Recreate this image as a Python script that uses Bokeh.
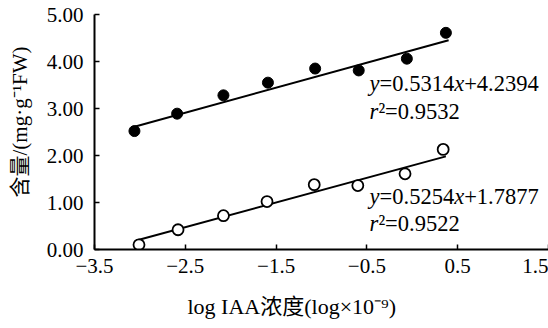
from bokeh.plotting import figure
from bokeh.models import Range1d, FixedTicker, Label, Title
from bokeh.embed import file_html
from bokeh.resources import INLINE

# ---- data ----
x_filled = [-3.06, -2.59, -2.08, -1.59, -1.07, -0.59, -0.06, 0.37]
y_filled = [2.52, 2.89, 3.28, 3.55, 3.85, 3.81, 4.06, 4.61]
x_open = [-3.01, -2.58, -2.08, -1.60, -1.08, -0.60, -0.08, 0.34]
y_open = [0.10, 0.42, 0.72, 1.02, 1.38, 1.36, 1.61, 2.13]

slope_filled, icpt_filled = 0.5314, 4.2394
slope_open, icpt_open = 0.5254, 1.7877

x_ticks = [-3.5, -2.5, -1.5, -0.5, 0.5, 1.5]
x_tick_labels = ["\u22123.5", "\u22122.5", "\u22121.5", "\u22120.5", "0.5", "1.5"]
y_ticks = [0, 1, 2, 3, 4, 5]
y_tick_labels = ["0.00", "1.00", "2.00", "3.00", "4.00", "5.00"]

x_title = "log IAA浓度(log×10\u207b\u2079)"
y_title = "含量/(mg\u00b7g\u207b\u00b9FW)"

FONT = "Liberation Serif, Noto Sans CJK SC"

p = figure(width=548, height=328, output_backend="svg", toolbar_location=None,
           x_range=Range1d(-3.5, 1.5), y_range=Range1d(0, 5),
           min_border_left=94, min_border_right=0, min_border_top=14,
           min_border_bottom=79)
p.outline_line_color = None
p.xgrid.visible = False
p.ygrid.visible = False
p.background_fill_color = "white"
p.border_fill_color = "white"

for ax in (p.xaxis[0], p.yaxis[0]):
    ax.axis_line_width = 2
    ax.axis_line_color = "black"
    ax.major_tick_in = 5
    ax.major_tick_out = 0
    ax.major_tick_line_width = 1.5
    ax.major_tick_line_color = "black"
    ax.minor_tick_line_color = None
    ax.major_label_text_font = FONT
    ax.major_label_text_font_size = "21px"
    ax.major_label_text_color = "black"

p.xaxis.ticker = FixedTicker(ticks=x_ticks)
p.xaxis.major_label_overrides = {t: l for t, l in zip(x_ticks, x_tick_labels)}
p.xaxis.major_label_standoff = 9
# blank spacer labels to push the titles a little outward
p.xaxis.axis_label = " "
p.xaxis.axis_label_text_font_size = "5px"
p.xaxis.axis_label_standoff = 2
p.yaxis.ticker = FixedTicker(ticks=y_ticks)
p.yaxis.major_label_overrides = {t: l for t, l in zip(y_ticks, y_tick_labels)}
p.yaxis.major_label_standoff = 11
p.yaxis.axis_label = " "
p.yaxis.axis_label_text_font_size = "3px"
p.yaxis.axis_label_standoff = 1

# axis titles
p.add_layout(Title(text=x_title, align="left", offset=93, text_font=FONT,
                   text_font_size="22px", text_font_style="normal",
                   text_color="black"), "below")
p.add_layout(Title(text=y_title, align="left", offset=52, text_font=FONT,
                   text_font_size="21px", text_font_style="normal",
                   text_color="black"), "left")

# regression lines
for xs, a, b in ((x_filled, slope_filled, icpt_filled), (x_open, slope_open, icpt_open)):
    x0, x1 = min(xs) - 0.03, max(xs) + 0.03
    p.line([x0, x1], [a * x0 + b, a * x1 + b], line_color="black", line_width=2)

p.scatter(x_filled, y_filled, size=11, fill_color="black", line_color="black")
p.scatter(x_open, y_open, size=11, fill_color="white", line_color="black", line_width=1.8)

# equations
F = 22.5
def eq(xd, yd, slope, icpt, yd2, r2):
    segs = [("y", "italic", 0.0),
            ("=%.4f" % slope, "normal", 0.444 * F),
            ("x", "italic", 0.444 * F + 3.314 * F),
            ("+%.4f" % icpt, "normal", 0.888 * F + 3.314 * F)]
    for t, st, off in segs:
        p.add_layout(Label(x=xd, y=yd, x_offset=off, text=t, text_font=FONT,
                           text_font_style=st, text_font_size="%.1fpx" % F,
                           text_baseline="alphabetic", text_color="black"))
    for t, st, off in (("r", "italic", 0.0), ("\u00b2=%.4f" % r2, "normal", 0.389 * F)):
        p.add_layout(Label(x=xd, y=yd2, x_offset=off, text=t, text_font=FONT,
                           text_font_style=st, text_font_size="%.1fpx" % F,
                           text_baseline="alphabetic", text_color="black"))

eq(-0.47, 3.54, slope_filled, icpt_filled, 2.935, 0.9532)
eq(-0.47, 1.126, slope_open, icpt_open, 0.562, 0.9522)

open("out.html", "w").write(file_html(p, INLINE))
